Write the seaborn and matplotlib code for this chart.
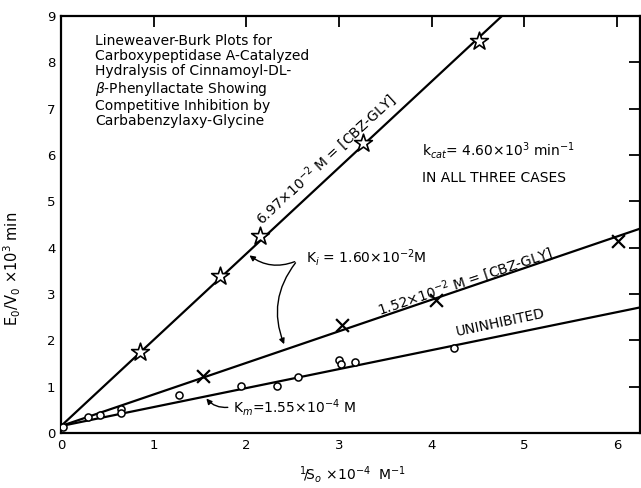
import matplotlib
matplotlib.use("Agg")
import matplotlib.pyplot as plt
import seaborn as sns
import pandas as pd
import numpy as np

# ---- data ----
star_x = [0.85, 1.72, 2.15, 3.26, 4.51]
star_y = [1.75, 3.39, 4.25, 6.26, 8.46]

cross_x = [1.535, 3.03, 4.045, 6.01]
cross_y = [1.24, 2.33, 2.88, 4.14]

circ_x = [0.02, 0.295, 0.42, 0.65, 0.65, 1.27, 1.94, 2.33, 2.56, 3.00, 3.02, 3.17, 4.24]
circ_y = [0.14, 0.35, 0.38, 0.52, 0.43, 0.83, 1.01, 1.02, 1.20, 1.58, 1.48, 1.53, 1.84]

# fitted straight lines (end points)
fit_x_uninh = [0.0, 6.25]
fit_y_uninh = [0.15, 2.71]
fit_x_low = [0.0, 6.25]
fit_y_low = [0.15, 4.41]
fit_x_high = [0.0, 4.76]
fit_y_high = [0.15, 9.0]

x_ticks = [0, 1, 2, 3, 4, 5, 6]
y_ticks = [0, 1, 2, 3, 4, 5, 6, 7, 8, 9]

sns.set_style("white")
plt.rcParams['font.family'] = ['DejaVu Sans']
plt.rcParams['mathtext.fontset'] = 'dejavusans'
plt.rcParams['text.color'] = 'black'
plt.rcParams['axes.labelcolor'] = 'black'
plt.rcParams['xtick.color'] = 'black'
plt.rcParams['ytick.color'] = 'black'

fig = plt.figure(figsize=(6.41, 4.88), dpi=100)
ax = fig.add_axes([61/641, (488-433)/488, (640-61)/641, (433-16)/488])

lines_df = pd.concat([
    pd.DataFrame({"x": fit_x_uninh, "y": fit_y_uninh, "s": "uninh"}),
    pd.DataFrame({"x": fit_x_low, "y": fit_y_low, "s": "low"}),
    pd.DataFrame({"x": fit_x_high, "y": fit_y_high, "s": "high"}),
])
sns.lineplot(data=lines_df, x="x", y="y", units="s", estimator=None,
             color="black", lw=1.6, ax=ax, legend=False, sort=False)

sns.scatterplot(x=circ_x, y=circ_y, marker="o", s=26, facecolor="white",
                edgecolor="black", linewidth=1.1, ax=ax, zorder=5)
sns.scatterplot(x=cross_x, y=cross_y, marker="x", s=85, color="black",
                linewidth=1.6, ax=ax, zorder=5)
sns.scatterplot(x=star_x, y=star_y, marker="*", s=180, facecolor="white",
                edgecolor="black", linewidth=1.2, ax=ax, zorder=5)

ax.set_xlim(0, 6.25)
ax.set_ylim(0, 9)
ax.set_xticks(x_ticks)
ax.set_yticks(y_ticks)
ax.set_xticklabels([str(t) for t in x_ticks])
ax.set_yticklabels([str(t) for t in y_ticks])
ax.tick_params(direction="in", length=8, width=1.3, top=True, right=True,
               labelsize=9.5, pad=4, colors="black")
for sp in ax.spines.values():
    sp.set_visible(True)
    sp.set_linewidth(1.6)
    sp.set_color("black")

ax.set_xlabel(r"$^{1}\!/\!$S$_o$ $\times$10$^{-4}$  M$^{-1}$", fontsize=10)
ax.set_ylabel(r"E$_0$/V$_0$ $\times$10$^3$ min", fontsize=10.5)
ax.xaxis.set_label_coords(0.503, -0.075)
ax.yaxis.set_label_coords(-0.066, 0.394)

fs = 10
ax.text(0.37, 8.62,
        "Lineweaver-Burk Plots for\nCarboxypeptidase A-Catalyzed\n"
        "Hydralysis of Cinnamoyl-DL-\n$\\beta$-Phenyllactate Showing\n"
        "Competitive Inhibition by\nCarbabenzylaxy-Glycine",
        fontsize=fs, ha="left", va="top", linespacing=1.12)

ax.text(3.9, 6.09, r"k$_{cat}$= 4.60$\times$10$^3$ min$^{-1}$", fontsize=fs,
        ha="left", va="center")
ax.text(3.9, 5.50, "IN ALL THREE CASES", fontsize=fs, ha="left", va="center")

ax.text(2.86, 5.91, r"6.97$\times$10$^{-2}$ M = [CBZ-GLY]", fontsize=fs,
        rotation=42.7, rotation_mode="anchor", ha="center", va="center")
ax.text(4.36, 3.28, r"1.52$\times$10$^{-2}$ M = [CBZ-GLY]", fontsize=fs,
        rotation=18.5, rotation_mode="anchor", ha="center", va="center")
ax.text(4.74, 2.39, "UNINHIBITED", fontsize=fs,
        rotation=12, rotation_mode="anchor", ha="center", va="center")

ax.text(2.65, 3.78, r"K$_i$ = 1.60$\times$10$^{-2}$M", fontsize=fs,
        ha="left", va="center")
ax.text(1.86, 0.54, r"K$_m$=1.55$\times$10$^{-4}$ M", fontsize=fs,
        ha="left", va="center")

arrow = dict(arrowstyle="-|>", color="black", lw=1.0, mutation_scale=8)
ax.annotate("", xy=(2.01, 3.87), xytext=(2.55, 3.72),
            arrowprops=dict(arrow, connectionstyle="arc3,rad=-0.3"))
ax.annotate("", xy=(2.42, 1.86), xytext=(2.55, 3.72),
            arrowprops=dict(arrow, connectionstyle="arc3,rad=0.3"))
ax.annotate("", xy=(1.55, 0.79), xytext=(1.83, 0.56),
            arrowprops=dict(arrow, connectionstyle="arc3,rad=-0.3"))

fig.savefig("out.png", dpi=100)
